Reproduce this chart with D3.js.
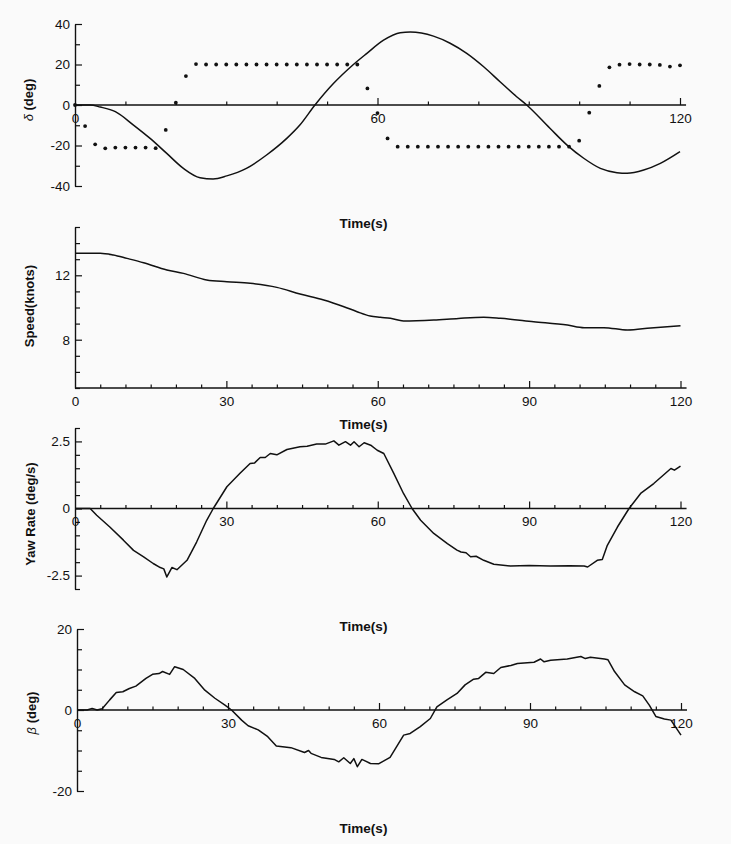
<!DOCTYPE html>
<html><head><meta charset="utf-8">
<script src="https://cdn.jsdelivr.net/npm/d3@7"></script>
<style>
html,body{margin:0;padding:0;background:#fafafa;}
text{font-family:"Liberation Sans",Arial,Helvetica,sans-serif;fill:#111;}
</style></head>
<body>
<script>
// ---------- DATA ----------
// Panel 1: heading (solid line) and rudder angle delta (dots)
const headingT = [0,3,5,8,11.6,14.9,18.2,21.5,24.8,27.4,30.1,34,38,42,44.6,47.6,51.3,55,57.9,61.2,64.5,66.5,71.1,74.4,77.7,81,84.3,87.6,89.6,94.2,97.6,100.9,104.2,107.5,109.5,112.8,116.1,120];
const headingV = [0,0,-1,-3.3,-9.9,-16.5,-23.9,-31.3,-35.9,-36.5,-35,-31.3,-24.7,-16.5,-9.9,0,10.7,19.5,25.5,32,35.7,36,34,30.5,25.5,19,11.5,4.1,0,-11.5,-19.8,-26.3,-31.3,-33.4,-33.7,-32.1,-28.8,-23];
const rudderT = [0,2,4,6,8,10,12,14,16,18,20,22,24,26,28,30,32,34,36,38,40,42,44,46,48,50,52,54,56,58,60,62,64,66,68,70,72,74,76,78,80,82,84,86,88,90,92,94,96,98,100,102,104,106,108,110,112,114,116,118,120];
const rudderV = [0,-10.4,-19.4,-21.4,-21,-21,-21,-21,-21.3,-12.3,1.1,14.3,20.2,20,20,20,20,20,20,20,20,20,20,20,20,20,20,20,20,8.2,-4,-16.5,-20.6,-20.6,-20.6,-20.6,-20.6,-20.6,-20.6,-20.6,-20.6,-20.6,-20.6,-20.6,-20.6,-20.6,-20.6,-20.6,-20.6,-20.6,-17.6,-3.8,9.4,18.6,19.9,20.2,20,20,19.8,19,19.6];

// Panel 2: speed (knots)
const speedT = [0,5,7.6,10.3,13.6,18.2,21.5,26.1,30.1,34.7,40,44.6,49.3,53.3,55.9,58.5,60.5,62.5,65.1,71.1,76,81,84.3,90.9,97.6,100.9,104.8,109.5,114.1,120];
const speedV = [13.37,13.37,13.26,13.05,12.78,12.33,12.12,11.71,11.6,11.5,11.25,10.84,10.47,10.05,9.74,9.47,9.39,9.33,9.16,9.22,9.32,9.39,9.33,9.12,8.91,8.75,8.75,8.6,8.73,8.87];

// Panel 3: yaw rate (deg/s)
const yawT = [0,3,4.3,6.9,9.6,11.6,13.6,15.5,16.9,17.6,18.2,19.2,20.2,22.2,24.1,26.1,27.4,30.1,32.7,34.7,35.6,36.7,37.7,38.7,40,42,44.6,46,47.9,49.6,51.3,52.3,53.6,54.6,55.3,56.3,57.3,58.6,59.9,61.2,63.2,65.1,66.8,68.5,71.1,73.8,75.7,76.5,77.5,78.4,79.5,81,83,86.3,90,94.2,98,100.9,101.6,103.5,104.5,105.5,107.5,109.8,112.1,114.7,118.1,118.8,120];
const yawV = [0,0,-0.25,-0.69,-1.18,-1.56,-1.8,-2.05,-2.2,-2.25,-2.55,-2.2,-2.28,-1.93,-1.25,-0.44,0,0.81,1.31,1.68,1.7,1.9,1.9,2.05,2.0,2.2,2.3,2.32,2.4,2.4,2.52,2.36,2.49,2.36,2.49,2.3,2.45,2.36,2.17,2.05,1.3,0.56,0,-0.44,-0.93,-1.31,-1.55,-1.62,-1.65,-1.8,-1.78,-1.93,-2.08,-2.14,-2.12,-2.14,-2.13,-2.14,-2.18,-1.93,-1.9,-1.37,-0.69,0,0.56,0.93,1.49,1.43,1.58];

// Panel 4: drift angle beta (deg)
const betaT = [0,2,3,4,5,6.5,7.8,9.1,10.4,11.7,13.7,15,16.3,17,18.4,19.4,21.1,23.4,25.4,27.4,29.4,30.7,32.7,34,36,37.9,39.6,42.5,45.2,46,46.5,48.5,51.1,52,53,54.3,55,55.7,56.6,58.3,59.9,62.2,64.9,66.2,68.2,70.2,71.5,73.5,75.5,77.1,78.8,79.8,81.2,82.8,84.2,86.2,87.5,90.8,92.1,92.8,94.1,97.4,100.1,101,102,104.8,105.5,106.8,108.8,110.8,112.4,113.7,115,116.7,118,120];
const betaV = [0,0,0.4,0,0.3,2.5,4.3,4.5,5.3,5.9,7.8,8.8,9,9.5,8.8,10.7,10,7.8,4.9,2.9,1.2,0,-2.5,-3.9,-4.9,-6.6,-8.9,-9.3,-10.5,-10,-10.7,-11.7,-12.2,-12.8,-11.8,-13.2,-12,-14,-12.2,-13.2,-13.3,-11.7,-6.2,-5.8,-4.1,-2.1,0.8,2.5,4.1,6.2,7.6,7.8,9.3,9,10.5,11,11.5,11.8,12.6,11.9,12.3,12.6,13.2,12.7,13,12.6,12.4,9.5,6.2,4.5,3.5,1.2,-1.6,-2.2,-2.5,-6.2];

// Tick values / labels
const timeLabelsTop = [0,60,120];
const timeLabels = [0,30,60,90,120];
const deltaTicks = [-40,-30,-20,-10,0,10,20,30,40];
const deltaLabels = [-40,-20,0,20,40];
const speedTicks = [5,6,7,8,9,10,11,12,13,14,15];
const speedLabels = [8,12];
const yawTicks = [-3,-2.5,-2,-1.5,-1,-0.5,0,0.5,1,1.5,2,2.5,3];
const yawLabels = [-2.5,0,2.5];
const betaTicks = [-20,-15,-10,-5,0,5,10,15,20];
const betaLabels = [-20,0,20];

// ---------- DRAW ----------
const W = 731, H = 844;
const svg = d3.select("body").append("svg").attr("width", W).attr("height", H)
  .style("background", "#fafafa");

const ink = "#111";

function zip(t, v){ return t.map((d,i)=>[d, v[i]]); }

function panel(cfg){
  const g = svg.append("g");
  const x = d3.scaleLinear().domain([0,120]).range(cfg.xr);
  const y = d3.scaleLinear().domain(cfg.yd).range(cfg.yr);
  const axisY = y(cfg.xAxisAt);

  // y axis
  const ya = d3.axisLeft(y).tickValues(cfg.yTicks).tickSizeInner(-6).tickSizeOuter(0)
    .tickPadding(5)
    .tickFormat(d => cfg.yLabels.includes(d) ? String(d) : "");
  const yg = g.append("g").attr("transform", `translate(${cfg.xr[0]},0)`).call(ya);
  yg.select(".domain").attr("stroke", ink).attr("stroke-width", 1.4);
  yg.selectAll(".tick line").attr("stroke", ink).attr("stroke-width", 1.2)
    .attr("x2", d => cfg.yLabels.includes(d) ? 7 : 5);
  yg.selectAll(".tick text").style("font-size", "13.5px").attr("fill", ink)
    .style("font-family", '"Liberation Sans",Arial,sans-serif');

  // x axis
  const allX = d3.range(0, 121, cfg.xStep);
  const xa = d3.axisBottom(x).tickValues(allX).tickSizeInner(-3).tickSizeOuter(0)
    .tickPadding(8)
    .tickFormat(d => cfg.xLabels.includes(d) ? String(d) : "");
  const xg = g.append("g").attr("transform", `translate(0,${axisY})`).call(xa);
  xg.select(".domain").remove();
  xg.append("line").attr("x1", x(0)).attr("x2", x(121.2)).attr("y1", 0).attr("y2", 0)
    .attr("stroke", ink).attr("stroke-width", 1.4);
  xg.selectAll(".tick line").attr("stroke", ink).attr("stroke-width", 1.2)
    .attr("y2", d => (d % cfg.xMajor === 0 && d !== 0) ? -7 : (d === 0 ? 0 : -3.5));
  xg.selectAll(".tick text").style("font-size", "13.5px").attr("fill", ink)
    .style("font-family", '"Liberation Sans",Arial,sans-serif');

  // y label
  const yl = g.append("text")
    .attr("transform", `translate(${cfg.ylx},${cfg.yly}) rotate(-90)`)
    .attr("text-anchor", "middle").attr("dominant-baseline", "central")
    .style("font-size", "13px").style("font-weight", "bold");
  cfg.ylabel(yl);

  // time label
  g.append("text").attr("x", 363.5).attr("y", cfg.timeY)
    .attr("text-anchor", "middle").attr("dominant-baseline", "central")
    .style("font-size", "13.5px").style("font-weight", "bold").text("Time(s)");

  // lines
  cfg.lines.forEach(L => {
    g.append("path").datum(L.data)
      .attr("fill", "none").attr("stroke", ink).attr("stroke-width", 1.5)
      .attr("stroke-linejoin", "round")
      .attr("d", d3.line().x(d => x(d[0])).y(d => y(d[1])).curve(L.curve));
  });
  if (cfg.dots) {
    g.selectAll("circle.dot").data(cfg.dots).join("circle")
      .attr("class", "dot").attr("cx", d => x(d[0])).attr("cy", d => y(d[1]))
      .attr("r", 1.9).attr("fill", ink);
  }
}

panel({
  xr: [75, 680], yd: [-40, 40], yr: [186, 24], xAxisAt: 0,
  yTicks: deltaTicks, yLabels: deltaLabels, xStep: 10, xMajor: 60, xLabels: timeLabelsTop,
  ylx: 28, yly: 100, timeY: 223,
  ylabel: t => { t.append("tspan").style("font-style","italic").style("font-weight","normal").text("δ"); t.append("tspan").text(" (deg)"); },
  lines: [{data: zip(headingT, headingV), curve: d3.curveMonotoneX}],
  dots: zip(rudderT, rudderV)
});

panel({
  xr: [75, 680.5], yd: [5, 15], yr: [388, 227], xAxisAt: 5,
  yTicks: speedTicks, yLabels: speedLabels, xStep: 5, xMajor: 30, xLabels: timeLabels,
  ylx: 29, yly: 306, timeY: 424,
  ylabel: t => t.text("Speed(knots)"),
  lines: [{data: zip(speedT, speedV), curve: d3.curveMonotoneX}]
});

panel({
  xr: [75, 680.5], yd: [-3, 3], yr: [589, 428], xAxisAt: 0,
  yTicks: yawTicks, yLabels: yawLabels, xStep: 5, xMajor: 30, xLabels: timeLabels,
  ylx: 30, yly: 514, timeY: 626,
  ylabel: t => t.text("Yaw Rate (deg/s)"),
  lines: [{data: zip(yawT, yawV), curve: d3.curveLinear}]
});

panel({
  xr: [77, 681], yd: [-20, 20], yr: [791, 629], xAxisAt: 0,
  yTicks: betaTicks, yLabels: betaLabels, xStep: 5, xMajor: 30, xLabels: timeLabels,
  ylx: 31, yly: 713, timeY: 828,
  ylabel: t => { t.append("tspan").style("font-style","italic").style("font-weight","normal").text("β"); t.append("tspan").text(" (deg)"); },
  lines: [{data: zip(betaT, betaV), curve: d3.curveLinear}]
});
</script>
</body></html>
